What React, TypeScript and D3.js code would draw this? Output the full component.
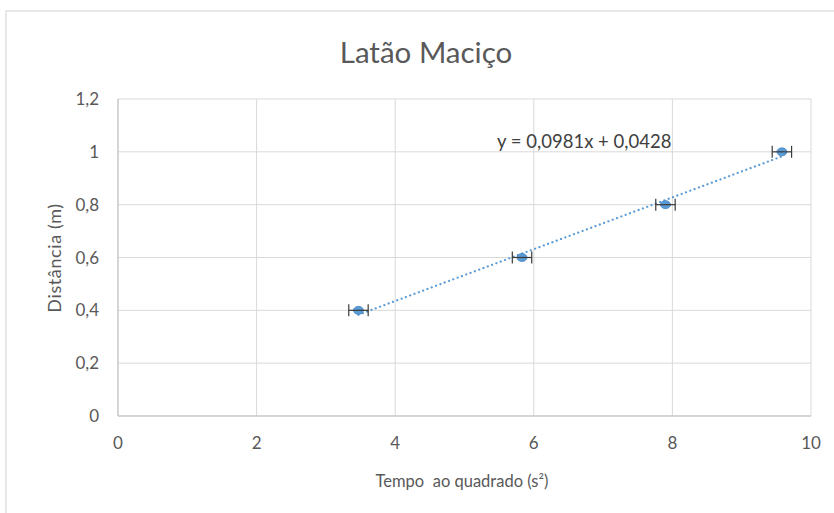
import React from "react";
import * as d3 from "d3";

const W = 834;
const H = 513;

// Measurements: squared time (s²) vs distance (m)
const tempoQuadrado = [3.47, 5.83, 7.9, 9.58];
const distancia = [0.4, 0.6, 0.8, 1.0];
const erroTempo = [0.14, 0.14, 0.14, 0.14];

// Linear trendline coefficients
const slope = 0.0981;
const intercept = 0.0428;

const xTicks = [0, 2, 4, 6, 8, 10];
const yTicks = [0, 0.2, 0.4, 0.6, 0.8, 1, 1.2];

const fmt = (v: number) => String(v).replace(".", ",");

export default function App() {
  const x = d3.scaleLinear().domain([0, 10]).range([118, 811]);
  const y = d3.scaleLinear().domain([0, 1.2]).range([416, 99]);

  const x0 = tempoQuadrado[0];
  const x1 = tempoQuadrado[tempoQuadrado.length - 1];
  const trend = d3.line<number>()
    .x((d) => x(d))
    .y((d) => y(slope * d + intercept));

  const font = "Lato, 'Open Sans', sans-serif";
  const grid = "#d9d9d9";
  const text = "#595959";
  const blue = "#5b9bd5";

  return (
    <svg
      width={W}
      height={H}
      style={{ position: "absolute", left: 0, top: 0, background: "#fff" }}
      fontFamily={font}
    >
      <rect x={6} y={11} width={W} height={H} fill="#fff" stroke="#d9d9d9" strokeWidth={1.2} />

      <text x={426} y={63} textAnchor="middle" fontSize={29.5} fill={text}>
        Latão Maciço
      </text>

      {/* gridlines */}
      {yTicks.map((t) => (
        <line key={"gy" + t} x1={x(0)} x2={x(10)} y1={y(t)} y2={y(t)} stroke={grid} strokeWidth={1} />
      ))}
      {xTicks.map((t) => (
        <line key={"gx" + t} x1={x(t)} x2={x(t)} y1={y(0)} y2={y(1.2)} stroke={grid} strokeWidth={1} />
      ))}
      <line x1={x(0)} x2={x(0)} y1={y(0)} y2={y(1.2)} stroke="#bfbfbf" />
      <line x1={x(0)} x2={x(10)} y1={y(0)} y2={y(0)} stroke="#bfbfbf" />

      {/* tick labels */}
      {yTicks.map((t) => (
        <text key={"ly" + t} x={99} y={y(t) + 6} textAnchor="end" fontSize={17} fill={text}>
          {fmt(t)}
        </text>
      ))}
      {xTicks.map((t) => (
        <text key={"lx" + t} x={x(t)} y={449} textAnchor="middle" fontSize={17} fill={text}>
          {fmt(t)}
        </text>
      ))}

      {/* axis titles */}
      <text
        transform={`translate(61,${258}) rotate(-90)`}
        textAnchor="middle"
        fontSize={18}
        fill={text}
        style={{ letterSpacing: "0.6px" }}
      >
        Distância (m)
      </text>
      <text x={462} y={487} textAnchor="middle" fontSize={16.5} fill={text} style={{ whiteSpace: "pre" }}>
        Tempo  ao quadrado (s²)
      </text>

      {/* trendline */}
      <path
        d={trend([x0, x1]) || ""}
        fill="none"
        stroke={blue}
        strokeWidth={2.2}
        strokeDasharray="0.1 4.5"
        strokeLinecap="round"
      />

      {/* error bars and points */}
      {tempoQuadrado.map((t, i) => {
        const cy = y(distancia[i]);
        const xa = x(t - erroTempo[i]);
        const xb = x(t + erroTempo[i]);
        return (
          <g key={"p" + i}>
            <ellipse cx={x(t)} cy={cy} rx={5} ry={4} fill={blue} stroke="#4a86c5" strokeWidth={0.8} />
            <line x1={xa} x2={xb} y1={cy} y2={cy} stroke="#3a3a3a" strokeWidth={1.2} />
            <line x1={xa} x2={xa} y1={cy - 6} y2={cy + 6} stroke="#3a3a3a" strokeWidth={1.2} />
            <line x1={xb} x2={xb} y1={cy - 6} y2={cy + 6} stroke="#3a3a3a" strokeWidth={1.2} />
          </g>
        );
      })}

      <text x={497} y={148} fontSize={18.5} fill="#404040">
        {`y = ${fmt(slope)}x + ${fmt(intercept)}`}
      </text>
    </svg>
  );
}
